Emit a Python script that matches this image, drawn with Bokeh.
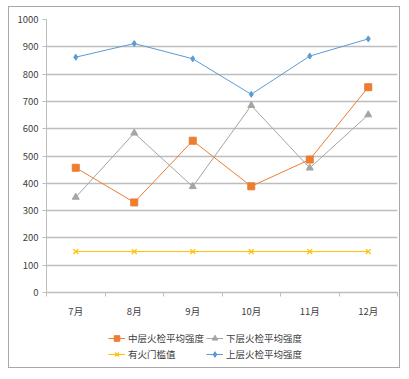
from bokeh.plotting import figure
from bokeh.layouts import column
from bokeh.embed import file_html
from bokeh.resources import INLINE
from bokeh.models import FixedTicker, Legend, LegendItem, Range1d

months = ["7月", "8月", "9月", "10月", "11月", "12月"]
mid_vals = [457, 330, 556, 389, 487, 752]
low_vals = [349, 584, 388, 685, 456, 651]
thr_vals = [150, 150, 150, 150, 150, 150]
up_vals = [862, 912, 856, 726, 866, 929]
y_ticks = [0, 100, 200, 300, 400, 500, 600, 700, 800, 900, 1000]

names = ["中层火检平均强度", "下层火检平均强度", "有火门槛值", "上层火检平均强度"]
colors = ["#ED7D31", "#A5A5A5", "#FFC000", "#5B9BD5"]
markers = ["square", "triangle", "x", "diamond"]
msizes = [7, 7, 7, 6]
series = [mid_vals, low_vals, thr_vals, up_vals]

FONT = "Noto Sans CJK SC"
TXT = "#404040"
GRID = "#bdbdbd"

xs = [i + 0.5 for i in range(len(months))]

p = figure(width=390, height=315, output_backend="svg", toolbar_location=None,
           x_range=Range1d(0, len(months)), y_range=Range1d(0, 1000),
           min_border_left=37, min_border_right=2, min_border_top=12, min_border_bottom=30)
p.outline_line_color = None

# y axis
p.yaxis.ticker = FixedTicker(ticks=y_ticks)
p.yaxis.axis_line_color = GRID
p.yaxis.major_tick_line_color = GRID
p.yaxis.major_tick_out = 4
p.yaxis.major_tick_in = 0
p.yaxis.minor_tick_line_color = None
p.yaxis.major_label_text_font = FONT
p.yaxis.major_label_text_font_size = "9.5px"
p.yaxis.major_label_text_color = TXT
p.yaxis.major_label_standoff = 4
p.ygrid.grid_line_color = GRID
p.ygrid.grid_line_width = 1.5
p.ygrid.ticker = FixedTicker(ticks=y_ticks)

# x axis: labels at category centres, ticks at boundaries
p.xaxis.ticker = FixedTicker(ticks=xs, minor_ticks=list(range(len(months) + 1)))
p.xaxis.major_label_overrides = {x: m for x, m in zip(xs, months)}
p.xaxis.major_tick_line_color = None
p.xaxis.minor_tick_line_color = GRID
p.xaxis.minor_tick_out = 4
p.xaxis.minor_tick_in = 0
p.xaxis.axis_line_color = GRID
p.xaxis.axis_line_width = 1.5
p.xaxis.major_label_text_font = FONT
p.xaxis.major_label_text_font_size = "9.5px"
p.xaxis.major_label_text_color = TXT
p.xaxis.major_label_standoff = 5
p.xgrid.grid_line_color = None

# legend figure (separate area below the chart)
lf = figure(width=390, height=45, output_backend="svg", toolbar_location=None,
            x_range=Range1d(0, 1), y_range=Range1d(0, 1),
            min_border_left=0, min_border_right=0, min_border_top=0, min_border_bottom=0)
lf.axis.visible = False
lf.grid.grid_line_color = None
lf.outline_line_color = None

off = [-10]  # off-screen sample so legend glyphs get drawn
items = []
for name, vals, c, m, s in zip(names, series, colors, markers, msizes):
    p.line(xs, vals, line_color=c, line_width=1)
    if m == "x":
        p.scatter(xs, vals, marker=m, size=s, line_color=c, line_width=1.2)
        r2 = lf.scatter(off, off, marker=m, size=s, line_color=c, line_width=1.2)
    else:
        p.scatter(xs, vals, marker=m, size=s, fill_color=c, line_color=c)
        r2 = lf.scatter(off, off, marker=m, size=s, fill_color=c, line_color=c)
    r1 = lf.line(off, off, line_color=c, line_width=1)
    items.append(LegendItem(label=name, renderers=[r1, r2]))

legend = Legend(items=items, orientation="horizontal", ncols=2,
                location=(62, 6), padding=0, margin=0, spacing=2,
                glyph_width=17, glyph_height=14, label_height=14, label_standoff=3,
                label_text_font=FONT, label_text_font_size="9.5px",
                label_text_color=TXT, border_line_color=None,
                background_fill_alpha=0)
lf.add_layout(legend, "center")

layout = column(p, lf, spacing=0)
layout.styles = {"border": "1px solid #a8a8a8", "background-color": "white",
                 "margin-left": "8px", "margin-top": "6px"}

open("out.html", "w").write(file_html(layout, INLINE))
